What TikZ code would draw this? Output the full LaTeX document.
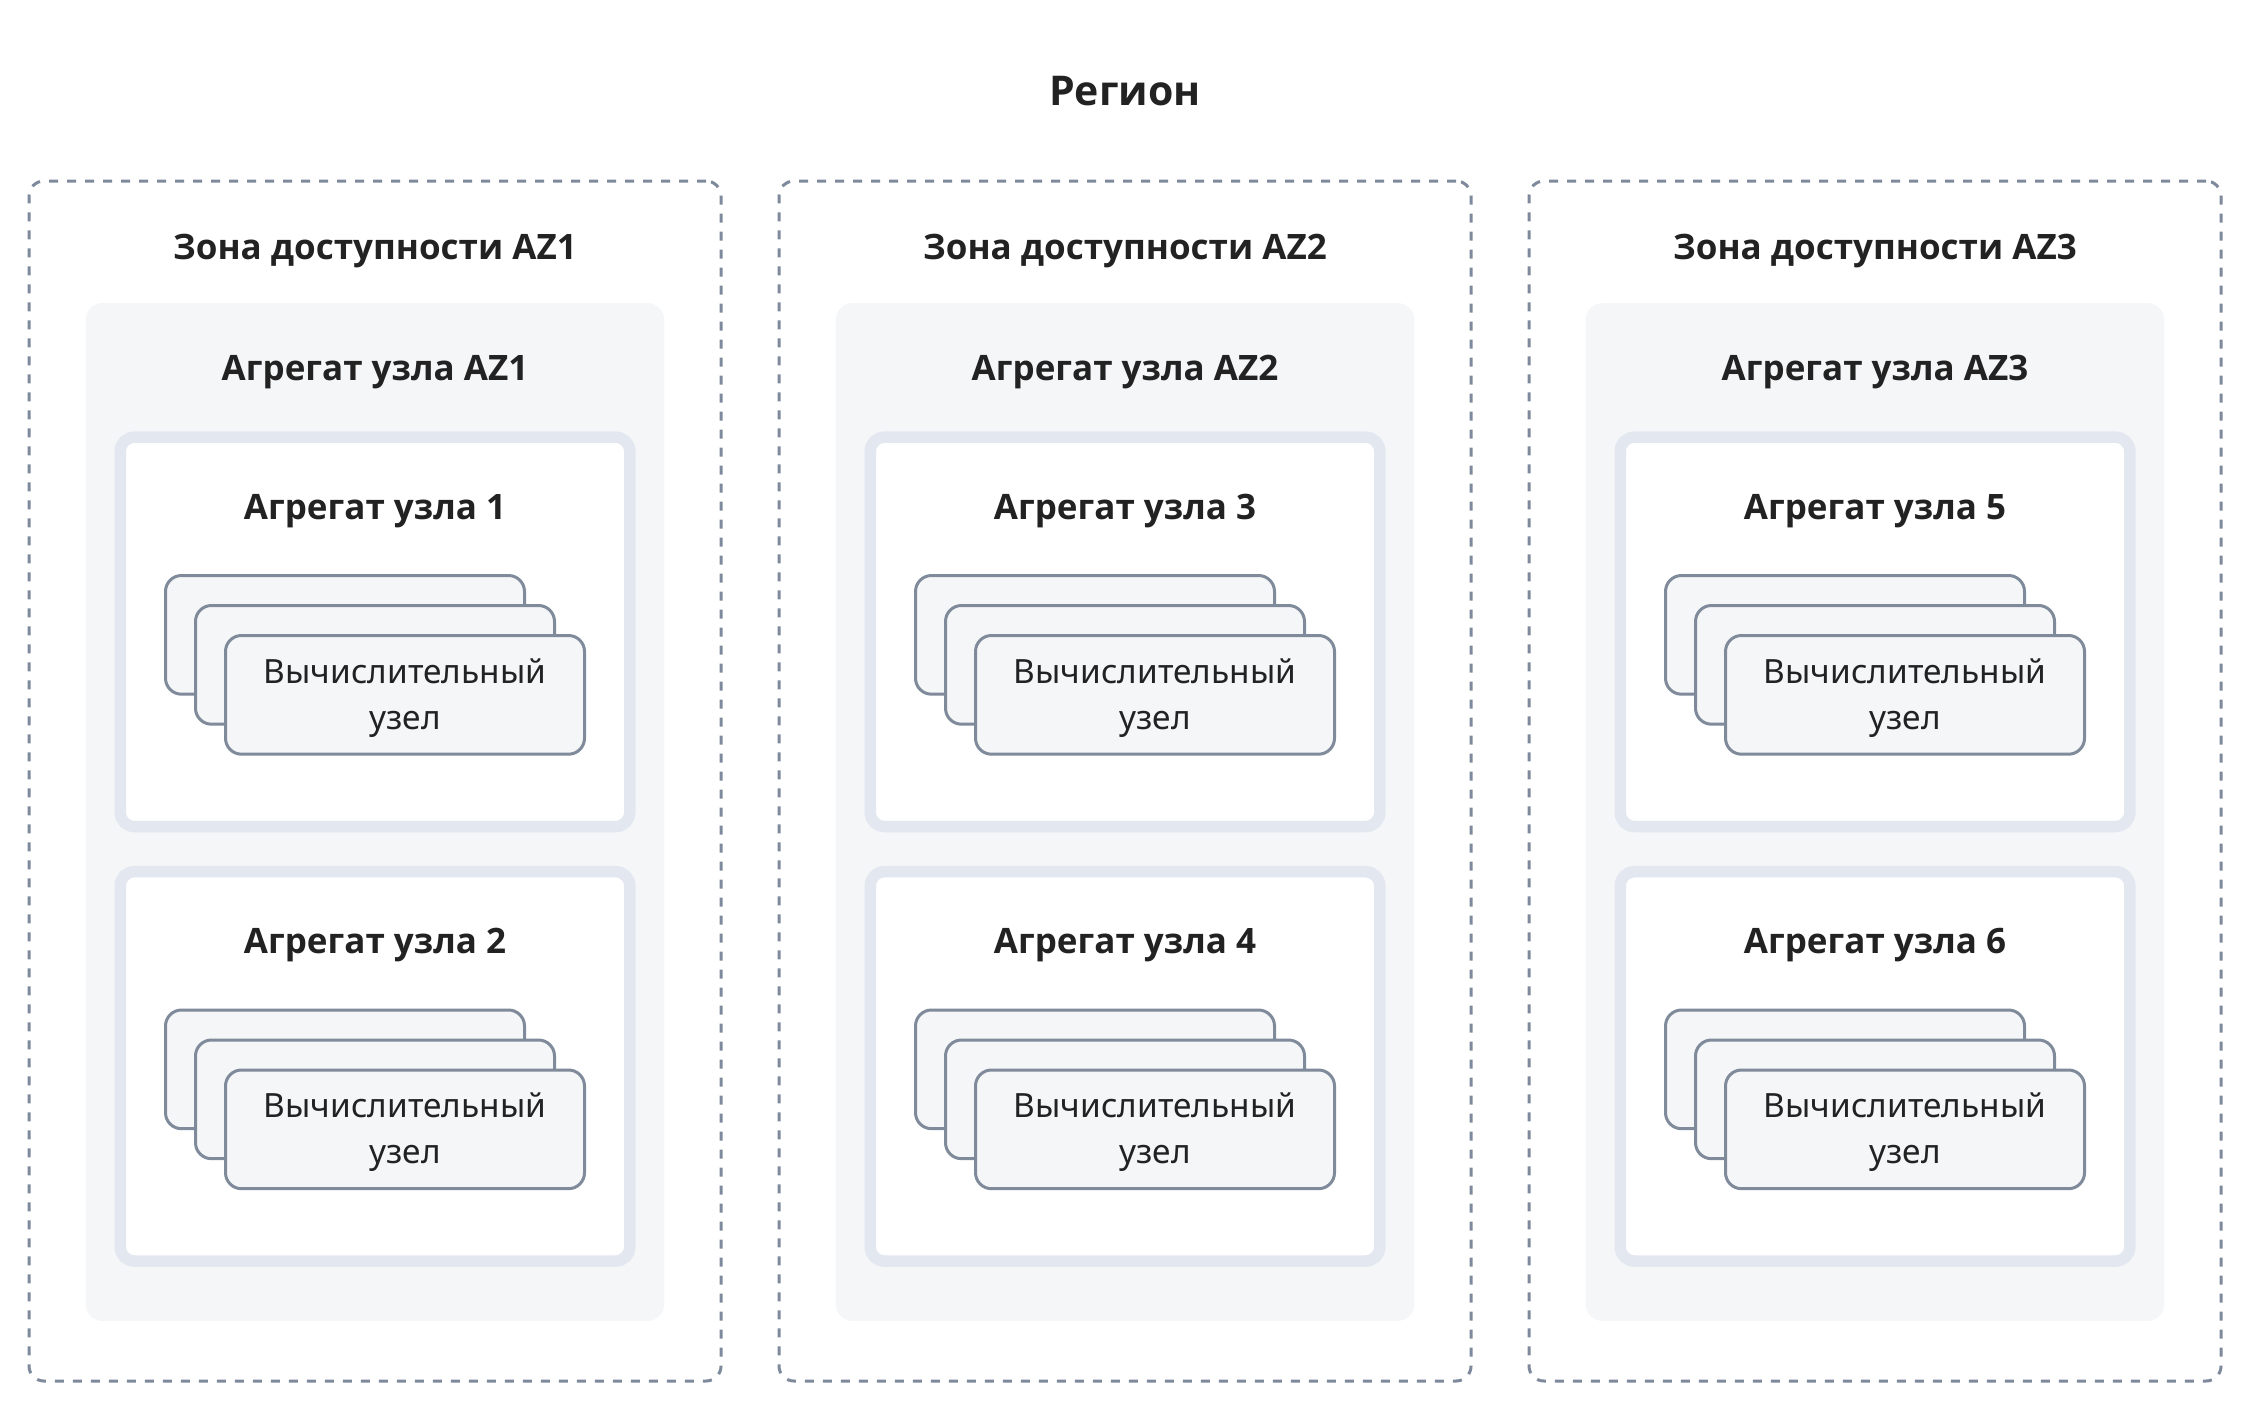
\documentclass[tikz,border=0pt]{standalone}
\usepackage{fontspec}
\setmainfont{Noto Sans}
\newfontfamily\headfamily{Open Sans}
\usetikzlibrary{calc}

\definecolor{dashgray}{HTML}{7E8A9B}
\definecolor{poolfill}{HTML}{F5F6F8}
\definecolor{aggline}{HTML}{E3E7F0}
\definecolor{hostline}{HTML}{7F8A9A}
\definecolor{hostfill}{HTML}{F5F6F8}
\definecolor{textdark}{HTML}{222222}

\newcommand\regionfont{\headfamily\bfseries\fontsize{41}{46}\selectfont}
\newcommand\headfont{\headfamily\bfseries\fontsize{35}{40}\selectfont}
\newcommand\hostfont{\fontsize{33.4}{46}\selectfont}

\tikzset{
  zonebox/.style={draw=dashgray, line width=3pt, dash pattern=on 9pt off 9pt, rounded corners=15pt, minimum width=692pt, minimum height=1200pt, inner sep=0pt},
  poolbox/.style={fill=poolfill, rounded corners=17pt, minimum width=578.6pt, minimum height=1018pt, inner sep=0pt},
  aggbox/.style={draw=aggline, fill=white, line width=11.5pt, rounded corners=14pt, minimum width=509.5pt, minimum height=389.3pt, inner sep=0pt},
  hostbox/.style={draw=hostline, fill=hostfill, line width=3pt, rounded corners=16pt, minimum width=359pt, minimum height=118.7pt, inner sep=0pt},
  hostlabel/.style={align=center, font=\hostfont, text=textdark, inner sep=0pt},
  headtext/.style={anchor=base, font=\headfont, text=textdark},
}

\begin{document}
\begin{tikzpicture}[x=1pt,y=-1pt]
\useasboundingbox (0,0) rectangle (2250,1410);
\node (region) at (1125,106) [anchor=base, font=\regionfont, text=textdark] {Регион};
\foreach \z/\x/\a/\b in {1/375/1/2, 2/1125/3/4, 3/1875/5/6} {
  \node (zone\z) at (\x,781) [zonebox] {};
  \node (zonetitle\z) at (\x,259.5) [headtext] {Зона доступности AZ\z};
  \node (pool\z) at (\x,812) [poolbox] {};
  \node (pooltitle\z) at (\x,380) [headtext] {Агрегат узла AZ\z};
  \foreach \n/\y in {\a/631.85, \b/1066.35} {
    \node (agg\n) at (\x,\y) [aggbox] {};
    \node (aggtitle\n) at (\x,\y-112.5) [headtext] {Агрегат узла \n};
    \node (hostc\n) at (\x-30,\y+3) [hostbox] {};
    \node (hostb\n) at (\x,\y+33) [hostbox] {};
    \node (hosta\n) at (\x+30,\y+63) [hostbox] {};
    \node (hosttext\n) at ($(hosta\n)+(0,3)$) [hostlabel] {Вычислительный\\узел};
  }
}
\end{tikzpicture}
\end{document}
